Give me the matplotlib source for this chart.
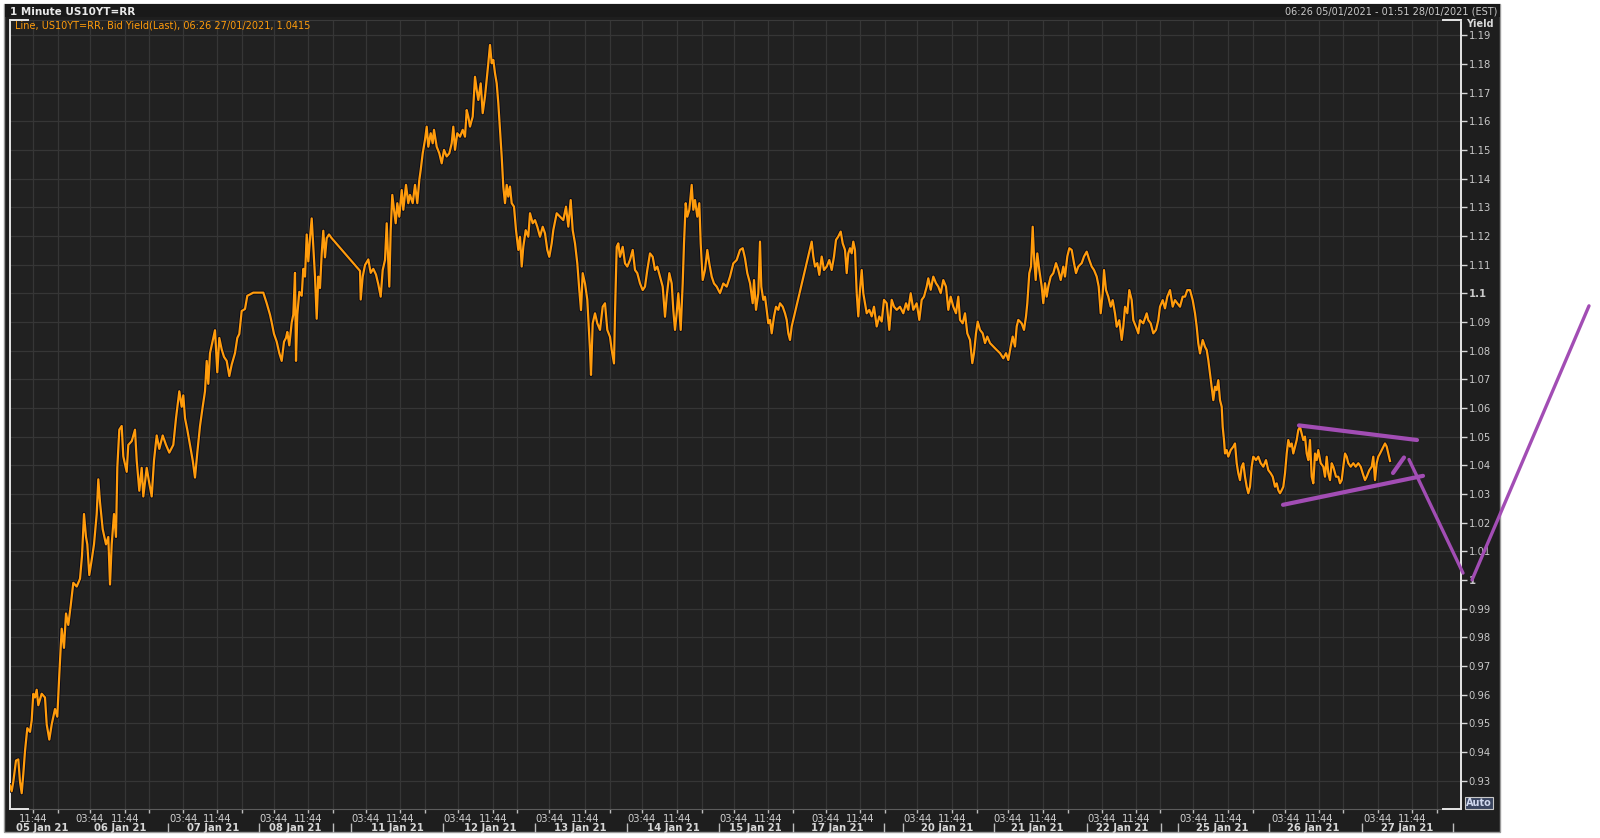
import matplotlib
matplotlib.use('Agg')
import matplotlib.pyplot as plt
import matplotlib.transforms as mtransforms
from matplotlib.patches import Rectangle

# ---------------- data (trading-time index t, yield) ----------------
seg_jan05_08 = [
    (0, 0.9283), (1.7, 0.9263), (3.3, 0.9296), (6, 0.9370), (8.3, 0.9374), (10, 0.9296),
    (11.7, 0.9256), (13.3, 0.9323), (15, 0.9403), (17.3, 0.9483), (20, 0.9470), (21.7, 0.9510),
    (23.3, 0.9603), (25, 0.9590), (26.7, 0.9617), (28.3, 0.9563), (31.7, 0.9603), (35, 0.9590),
    (36.7, 0.9496), (39.3, 0.9443), (41.7, 0.9496), (45, 0.9550), (47.3, 0.9523), (49.3, 0.9670),
    (51.7, 0.9830), (54, 0.9763), (56, 0.9883), (58.3, 0.9843), (60.7, 0.9910), (63.3, 0.9990),
    (66.7, 0.9977), (70, 1.0004), (72, 1.0084), (74, 1.0230), (76, 1.0150), (77.3, 1.0124),
    (79.3, 1.0017), (81.7, 1.0070), (84, 1.0124), (86.7, 1.0230), (88.3, 1.0351), (90, 1.0271),
    (92.7, 1.0177), (96, 1.0124), (98.3, 1.0150), (100, 0.9984), (101.7, 1.0124), (104, 1.0230),
    (106, 1.0150), (107.3, 1.0391), (109.3, 1.0524), (111.7, 1.0537), (113.3, 1.0431), (116.7, 1.0377),
    (118.3, 1.0471), (121.7, 1.0484), (125, 1.0524), (126.7, 1.0417), (129.3, 1.0311), (131.7, 1.0391),
    (133.3, 1.0291), (136.7, 1.0391), (139.3, 1.0337), (141.7, 1.0291), (144, 1.0417), (146.7, 1.0504),
    (149.3, 1.0457), (152.7, 1.0504), (156, 1.0471), (159.3, 1.0444), (163.3, 1.0471), (166, 1.0564),
    (169.3, 1.0658), (171.7, 1.0604), (173.3, 1.0644), (175, 1.0564), (177.3, 1.0524), (180, 1.0471),
    (182.7, 1.0417), (185, 1.0357), (187.3, 1.0444), (190, 1.0537), (192.7, 1.0604), (195, 1.0658),
    (196.7, 1.0764), (198.3, 1.0684), (200, 1.0791), (201.7, 1.0818), (203.3, 1.0844), (205, 1.0871),
    (207.3, 1.0724), (209.3, 1.0844), (211.7, 1.0804), (214, 1.0778), (216.7, 1.0764), (219.3, 1.0711),
    (221.7, 1.0751), (225, 1.0791), (227.3, 1.0844), (229.3, 1.0858), (231.7, 1.0938), (235, 1.0945),
    (237.3, 1.0991), (243.3, 1.1002), (253.3, 1.1002), (256.7, 1.0965), (260, 1.0925), (261.7, 1.0898),
    (264, 1.0858), (266.7, 1.0831), (269.3, 1.0791), (271.7, 1.0764), (274, 1.0831), (276, 1.0844),
    (277.3, 1.0865), (279.3, 1.0818), (281.7, 1.0898), (283.3, 1.0925), (285, 1.1071), (286, 1.0764),
    (287.3, 1.0925), (289.3, 1.1005), (291.7, 1.0991), (293.3, 1.1085), (295, 1.1058), (296.7, 1.1205),
    (298.3, 1.1111), (300, 1.1192), (301.7, 1.1261), (303.3, 1.1165), (305, 1.1058), (306.7, 1.0911),
    (308.3, 1.1058), (310, 1.1018), (311.7, 1.1138), (313.3, 1.1218), (315, 1.1125), (316.7, 1.1192),
    (319, 1.1205), (321.7, 1.1192),
]
seg_jan11_15 = [
    (350, 1.1078), (350.7, 1.0978), (352.7, 1.1058), (355, 1.1098), (358.3, 1.1118), (360.7, 1.1071),
    (363.3, 1.1085), (366, 1.1065), (368.3, 1.1031), (370.7, 1.0988), (372.7, 1.1081), (375, 1.1116),
    (376.7, 1.1244), (378.3, 1.1104), (379.3, 1.1023), (380.7, 1.1220), (382.3, 1.1343), (384, 1.1291),
    (385.7, 1.1244), (387.3, 1.1314), (389.3, 1.1267), (391.7, 1.1360), (393.3, 1.1291), (396, 1.1378),
    (398.3, 1.1314), (400, 1.1343), (402.7, 1.1314), (405, 1.1378), (407.3, 1.1314), (409.3, 1.1395),
    (410.7, 1.1430), (412.7, 1.1488), (415, 1.1535), (416.7, 1.1581), (418.3, 1.1511), (420.7, 1.1558),
    (422.7, 1.1523), (424, 1.1570), (426.7, 1.1511), (429.3, 1.1488), (431.7, 1.1453), (434, 1.1500),
    (436.7, 1.1477), (439.3, 1.1488), (441.7, 1.1523), (443.3, 1.1581), (445, 1.1500), (447.3, 1.1558),
    (450, 1.1546), (452.7, 1.1570), (455, 1.1546), (456.7, 1.1639), (458.3, 1.1616), (460, 1.1581),
    (462.7, 1.1616), (465, 1.1755), (466.7, 1.1709), (468.3, 1.1674), (470.7, 1.1732), (472.7, 1.1628),
    (475, 1.1686), (476.7, 1.1744), (478.3, 1.1802), (480, 1.1866), (481.7, 1.1802), (483.3, 1.1814),
    (485, 1.1767), (486.7, 1.1732), (488.3, 1.1663), (490, 1.1570), (491.7, 1.1477), (493.3, 1.1372),
    (495, 1.1314), (496.7, 1.1378), (498.3, 1.1337), (500, 1.1372), (501.7, 1.1314), (504, 1.1302),
    (506, 1.1220), (508.3, 1.1151), (510, 1.1197), (511.7, 1.1093), (513.3, 1.1162), (515.7, 1.1220),
    (518.3, 1.1197), (520, 1.1279), (522.7, 1.1244), (525, 1.1255), (527.3, 1.1232), (530, 1.1197),
    (532.7, 1.1232), (535, 1.1209), (537.3, 1.1151), (539.3, 1.1127), (541.7, 1.1174), (543.3, 1.1220),
    (546.7, 1.1279), (550, 1.1267), (553.3, 1.1255), (556, 1.1302), (558.3, 1.1232), (560.7, 1.1325),
    (562.7, 1.1220), (565, 1.1174), (567.3, 1.1104), (569.3, 1.1011), (571, 1.0941), (572.7, 1.1070),
    (575, 1.1034), (577.3, 1.0977), (580, 1.0802), (581, 1.0715), (582.7, 1.0895), (585, 1.0930),
    (587.3, 1.0895), (590, 1.0872), (592.7, 1.0953), (595, 1.0965), (597.3, 1.0872), (600, 1.0848),
    (601.7, 1.0802), (604, 1.0755), (605, 1.0930), (606.7, 1.1162), (608.3, 1.1174), (610, 1.1127),
    (612.7, 1.1162), (615, 1.1104), (617.3, 1.1093), (620, 1.1116), (622.7, 1.1151), (625, 1.1081),
    (627.3, 1.1070), (630, 1.1034), (632.7, 1.1011), (635, 1.1023), (637.3, 1.1081), (640, 1.1139),
    (642.7, 1.1127), (645, 1.1081), (647.3, 1.1093), (650, 1.1058), (652.7, 1.1023), (655, 1.0918),
    (656.7, 1.0988), (659.3, 1.1070), (661.7, 1.1034), (663.3, 1.0941), (665, 1.0872), (666.7, 1.0930),
    (668.3, 1.1000), (670.7, 1.0872), (672.7, 1.1034), (674, 1.1174), (675.7, 1.1314), (677.3, 1.1267),
    (679.3, 1.1291), (681.7, 1.1378), (683.3, 1.1291), (685, 1.1325), (687.3, 1.1267), (689.3, 1.1314),
    (690.7, 1.1174), (692.7, 1.1046), (695, 1.1081), (697.3, 1.1151), (699.3, 1.1104), (701.7, 1.1058),
    (704, 1.1034), (706.7, 1.1023), (710, 1.1000), (713.3, 1.1034), (716.7, 1.1023), (720, 1.1058),
    (723.3, 1.1104), (726.7, 1.1116), (730, 1.1151), (732.7, 1.1157), (735, 1.1122), (737.3, 1.1070),
    (740, 1.1035), (742.7, 1.0965), (744, 1.1046), (746, 1.0942), (748.3, 1.1000), (750, 1.1180),
    (751.3, 1.1023), (753.3, 1.0977), (755, 1.0988), (756.7, 1.0942), (758.3, 1.0895), (760, 1.0907),
    (761.7, 1.0860), (764, 1.0919), (766, 1.0953), (768.3, 1.0942), (770, 1.0965), (772.7, 1.0953),
    (775, 1.0930), (776.7, 1.0907), (778.3, 1.0860), (780, 1.0837), (781.7, 1.0884),
]
seg_jan17_22 = [
    (801.7, 1.1180), (803.3, 1.1128), (805, 1.1093), (807.3, 1.1105), (809.3, 1.1064), (811.7, 1.1128),
    (814, 1.1081), (816.7, 1.1093), (819.3, 1.1116), (821.7, 1.1081), (824, 1.1128), (826, 1.1186),
    (828.3, 1.1198), (830.7, 1.1215), (832.7, 1.1174), (835, 1.1151), (836.7, 1.1070), (838.3, 1.1139),
    (840, 1.1157), (841.7, 1.1139), (843.3, 1.1180), (845, 1.1151), (846.7, 1.1000), (848.3, 1.0919),
    (850, 1.1012), (851.7, 1.1081), (853.3, 1.1000), (855, 1.0965), (856.7, 1.0930), (859.3, 1.0942),
    (861.7, 1.0919), (864, 1.0953), (866.7, 1.0884), (869.3, 1.0919), (871.7, 1.0901), (874, 1.0977),
    (876.7, 1.0965), (879.3, 1.0872), (881.7, 1.0977), (884, 1.0953), (886.7, 1.0942), (890, 1.0953),
    (893.3, 1.0930), (896, 1.0965), (898.3, 1.0942), (900.7, 1.1000), (903.3, 1.0942), (906.7, 1.0965),
    (909.3, 1.0907), (911.7, 1.0977), (914, 1.0988), (916.7, 1.1023), (918.3, 1.1052), (920.7, 1.1012),
    (923.3, 1.1058), (926, 1.1035), (928.3, 1.1023), (930.7, 1.1000), (933.3, 1.1046), (936, 1.1023),
    (938.3, 1.0942), (940.7, 1.0988), (943.3, 1.0953), (946, 1.0930), (948.3, 1.0988), (950, 1.0907),
    (952.7, 1.0895), (955, 1.0930), (957.3, 1.0860), (960, 1.0837), (962.3, 1.0756), (964, 1.0791),
    (966, 1.0860), (967.7, 1.0901), (970, 1.0872), (972.7, 1.0860), (975, 1.0826), (977.3, 1.0849),
    (980, 1.0826), (983.3, 1.0814), (986.7, 1.0802), (990, 1.0791), (993.3, 1.0773), (996, 1.0791),
    (998.3, 1.0767), (1000.7, 1.0814), (1002.7, 1.0849), (1005, 1.0814), (1006.7, 1.0884), (1008.3, 1.0907),
    (1011.7, 1.0895), (1014, 1.0872), (1016, 1.0919), (1017.3, 1.0965), (1019.3, 1.1070), (1021, 1.1093),
    (1022.7, 1.1232), (1024, 1.1128), (1025.7, 1.1046), (1027.3, 1.1139), (1029.3, 1.1081), (1031.7, 1.1023),
    (1033.3, 1.0965), (1035, 1.1035), (1036.7, 1.0988), (1038.3, 1.1023), (1040.7, 1.1058), (1043.3, 1.1070),
    (1046, 1.1105), (1048.3, 1.1081), (1050.7, 1.1046), (1053.3, 1.1093), (1055, 1.1058), (1057.3, 1.1128),
    (1059.3, 1.1157), (1061.7, 1.1151), (1064, 1.1105), (1066, 1.1070), (1068.3, 1.1093), (1071.7, 1.1105),
    (1074, 1.1128), (1076.7, 1.1145), (1079.3, 1.1116), (1081.7, 1.1093), (1084, 1.1081), (1086.7, 1.1058),
    (1088.7, 1.1023), (1090, 1.0965),
]
seg_jan25_27 = [
    (1090.7, 1.0930), (1092.7, 1.1000), (1094, 1.1081), (1096, 1.1011), (1098.3, 1.0988), (1100.7, 1.0953),
    (1102.7, 1.0976), (1105, 1.0930), (1106.7, 1.0883), (1109.3, 1.0906), (1111.7, 1.0837), (1113.3, 1.0883),
    (1115, 1.0953), (1117.3, 1.0930), (1119.3, 1.1011), (1121.7, 1.0976), (1123.3, 1.0906), (1126, 1.0883),
    (1128.3, 1.0860), (1130, 1.0906), (1133.3, 1.0895), (1136.7, 1.0930), (1138.3, 1.0906), (1140.7, 1.0895),
    (1143.3, 1.0860), (1146, 1.0872), (1148.3, 1.0906), (1150, 1.0953), (1152.7, 1.0976), (1155, 1.0947),
    (1157.3, 1.0988), (1160, 1.1011), (1162.7, 1.0953), (1165, 1.0976), (1167.3, 1.0965), (1170, 1.0953),
    (1172.7, 1.0988), (1175, 1.0988), (1177.3, 1.1011), (1180, 1.1011), (1182.7, 1.0976), (1185, 1.0930),
    (1186.7, 1.0883), (1188.3, 1.0825), (1190, 1.0790), (1192.7, 1.0837), (1195, 1.0813), (1196.7, 1.0802),
    (1198.3, 1.0767), (1200, 1.0720), (1201.7, 1.0674), (1203.3, 1.0627), (1205, 1.0674), (1206.7, 1.0662),
    (1208.3, 1.0697), (1210, 1.0627), (1211.7, 1.0604), (1212.7, 1.0534), (1214, 1.0488), (1215, 1.0441),
    (1216.7, 1.0453), (1218.3, 1.0430), (1220.7, 1.0453), (1223.3, 1.0465), (1225, 1.0476), (1226.7, 1.0407),
    (1228.3, 1.0372), (1230, 1.0348), (1231.7, 1.0395), (1233.3, 1.0407), (1235, 1.0360), (1236.7, 1.0325),
    (1238.3, 1.0302), (1240, 1.0325), (1241.7, 1.0395), (1243.3, 1.0430), (1246, 1.0418), (1248.3, 1.0430),
    (1250.7, 1.0407), (1253.3, 1.0395), (1256, 1.0418), (1258.3, 1.0383), (1260.7, 1.0372), (1262.7, 1.0360),
    (1265, 1.0325), (1266.7, 1.0337), (1268.3, 1.0313), (1270, 1.0302), (1271.7, 1.0313), (1273.3, 1.0325),
    (1275, 1.0372), (1276.7, 1.0441), (1278.3, 1.0488), (1280, 1.0465), (1281.7, 1.0476), (1283.3, 1.0441),
    (1285, 1.0465), (1286.7, 1.0488), (1288.3, 1.0523), (1290, 1.0534), (1291.7, 1.0511), (1293.3, 1.0488),
    (1295, 1.0500), (1296.7, 1.0441), (1298.3, 1.0418), (1300, 1.0488), (1301.7, 1.0360), (1303.3, 1.0337),
    (1305, 1.0441), (1306.7, 1.0418), (1308.3, 1.0453), (1310.7, 1.0407), (1313.3, 1.0395), (1315, 1.0360),
    (1316.7, 1.0430), (1318.3, 1.0372), (1320, 1.0348), (1321.7, 1.0407), (1323.3, 1.0395), (1326, 1.0360),
    (1328.3, 1.0360), (1330, 1.0337), (1331.7, 1.0348), (1333.3, 1.0395), (1335, 1.0441), (1336.7, 1.0430),
    (1338.3, 1.0407), (1340.7, 1.0395), (1343.3, 1.0407), (1345.7, 1.0395), (1348.3, 1.0407), (1350.7, 1.0395),
    (1352.7, 1.0372), (1355, 1.0348), (1356.7, 1.0360), (1359.3, 1.0383), (1361.7, 1.0395), (1363.3, 1.0430),
    (1365, 1.0348), (1366.7, 1.0407), (1368.3, 1.0430), (1370, 1.0441), (1371.7, 1.0453), (1373.3, 1.0465),
    (1375, 1.0476), (1376.7, 1.0465), (1378.3, 1.0441), (1380, 1.0415),
]
last_price = 1.0415

# x-axis labels (trading-time index)
time_pos = [23, 80, 115, 173, 207, 264, 298, 356, 390, 448, 483, 539, 575, 632, 667, 724, 758,
            816, 850, 907, 942, 998, 1033, 1092, 1126, 1183, 1218, 1275, 1309, 1368, 1402]
time_lbl = ['11:44'] + ['03:44', '11:44'] * 15
evening_pos = [48, 139, 232, 323, 415, 507, 600, 692, 783, 875, 967, 1058, 1150, 1243, 1333, 1427]
day_sep = [158, 249, 323, 341, 433, 525, 617, 709, 783, 874, 893, 984, 1077, 1151, 1168, 1259, 1352, 1443]
date_pos = [32, 110, 203, 285, 387, 480, 570, 663, 745, 827, 937, 1027, 1112, 1212, 1303, 1397]
date_lbl = ['05 Jan 21', '06 Jan 21', '07 Jan 21', '08 Jan 21', '11 Jan 21', '12 Jan 21', '13 Jan 21',
            '14 Jan 21', '15 Jan 21', '17 Jan 21', '20 Jan 21', '21 Jan 21', '22 Jan 21', '25 Jan 21',
            '26 Jan 21', '27 Jan 21']
ytick_vals = [round(0.93 + 0.01 * i, 2) for i in range(27)]

# hand-drawn purple annotation (pennant + projection)
pen_upper = [(1289, 1.0539), (1407, 1.0488)]
pen_lower = [(1273, 1.0262), (1413, 1.0363)]
pen_dash = [(1383, 1.0373), (1394, 1.0427)]
proj_down = [(1399, 1.0420), (1453, 1.0024)]
proj_up = [(1462, 1.0000), (1579, 1.0956)]

# ---------------- figure ----------------
W, H = 1600, 838
plt.rcParams['font.family'] = ['DejaVu Sans']
fig = plt.figure(figsize=(16, 8.38), dpi=100, facecolor='white')


def fx(px):
    return px / W


def fy(py):
    return 1 - py / H


fig.patches.append(Rectangle((fx(4), fy(832)), fx(1500) - fx(4), fy(4) - fy(832),
                             transform=fig.transFigure, facecolor='#1e1e1e',
                             edgecolor='#9a9a9a', lw=1.0, zorder=-2))
fig.patches.append(Rectangle((fx(4.5), fy(17)), fx(1499.5) - fx(4.5), fy(4.5) - fy(17),
                             transform=fig.transFigure, facecolor='#191919',
                             edgecolor='none', zorder=-1))

ax = fig.add_axes([fx(10), fy(809), fx(1461) - fx(10), fy(20) - fy(809)])
ax.set_zorder(1)
ax.set_facecolor('#212121')
ax.set_xlim(0, 1451)
ax.set_ylim(0.9201, 1.1953)

allseg = [seg_jan05_08, seg_jan11_15, seg_jan17_22, seg_jan25_27]
t = [p[0] for s in allseg for p in s]
yld = [p[1] for s in allseg for p in s]
ax.plot(t, yld, color='#0b0b18', lw=2.9, zorder=3, solid_joinstyle='round')
ax.plot(t, yld, color='#ff9c0c', lw=1.6, zorder=4, solid_joinstyle='round')

# grid
for v in ytick_vals:
    ax.axhline(v, color='#363636', lw=0.9, zorder=1)
for x in time_pos + evening_pos:
    ax.axvline(x, color='#363636', lw=0.9, zorder=1)

# y axis on the right
ax.yaxis.tick_right()
ax.set_yticks(ytick_vals)
ax.set_yticklabels([f'{v:g}' for v in ytick_vals])
for lab, v in zip(ax.get_yticklabels(), ytick_vals):
    if f'{v:g}' in ('1', '1.1'):
        lab.set_fontweight('bold')
ax.tick_params(axis='y', direction='out', length=4, width=1, color='#d8d8d8',
               labelcolor='#c8c8c8', labelsize=7.2, pad=1.5)

# x axis
ax.set_xticks(time_pos + evening_pos)
ax.set_xticklabels(time_lbl + [''] * len(evening_pos))
ax.tick_params(axis='x', direction='out', length=3, width=1, color='#bdbdbd',
               labelcolor='#d0d0d0', labelsize=7.2, pad=0.5)

trans = mtransforms.blended_transform_factory(ax.transData, ax.transAxes)
for x, lbl in zip(date_pos, date_lbl):
    ax.text(x, -0.0245, lbl, transform=trans, ha='center', va='center', fontsize=7.2,
            fontweight='bold', color='#d8d8d8', clip_on=False)
ax.vlines(day_sep, -0.0178, -0.0292, transform=trans, colors='#bdbdbd', lw=1, clip_on=False)

# spines and corner marks
for side in ('left', 'right'):
    ax.spines[side].set_color('#e6e6e6')
    ax.spines[side].set_linewidth(1.4)
ax.spines['bottom'].set_color('#5c5c5c')
ax.spines['top'].set_color('#3a3a3a')
c = 0.0124
for xs, ys in [((0, c), (1, 1)), ((1 - c, 1), (1, 1)), ((0, c), (0, 0)), ((1 - c, 1), (0, 0))]:
    ax.plot(xs, ys, transform=ax.transAxes, color='#e6e6e6', lw=1.4, clip_on=False, zorder=6)

# texts
fig.text(fx(10), fy(12), '1 Minute US10YT=RR', fontsize=7.5, fontweight='bold',
         color='#e8e8e8', ha='left', va='center')
fig.text(fx(1497), fy(12), '06:26 05/01/2021 - 01:51 28/01/2021 (EST)', fontsize=7,
         color='#c8c8c8', ha='right', va='center')
fig.text(fx(15), fy(26), 'Line, US10YT=RR, Bid Yield(Last), 06:26 27/01/2021, 1.0415',
         fontsize=7, color='#ff9c0c', ha='left', va='center')
fig.text(fx(1466), fy(24), 'Yield', fontsize=7, fontweight='bold', color='#d8d8d8',
         ha='left', va='center')
fig.text(fx(1479), fy(803), 'Auto', fontsize=7, fontweight='bold', color='#d0d8ee',
         ha='center', va='center',
         bbox=dict(boxstyle='square,pad=0.15', facecolor='#3a4560', edgecolor='#c8c8c8', lw=0.8))

# last price tag
ax.text(1.001, last_price, f'{last_price:.4f}', transform=trans, fontsize=7, color='black',
        ha='left', va='center', zorder=7, clip_on=False,
        bbox=dict(boxstyle='square,pad=0.12', facecolor='#ff9c0c', edgecolor='none'))

# purple annotations
purple = '#a24db4'
for seg, lw in [(pen_upper, 3.0), (pen_lower, 3.0), (pen_dash, 3.0), (proj_down, 2.4), (proj_up, 2.4)]:
    xs = [p[0] for p in seg]
    ys = [p[1] for p in seg]
    ax.plot(xs, ys, color=purple, lw=lw, solid_capstyle='round', clip_on=False, zorder=8)

fig.savefig('out.png', dpi=100, facecolor='white')
